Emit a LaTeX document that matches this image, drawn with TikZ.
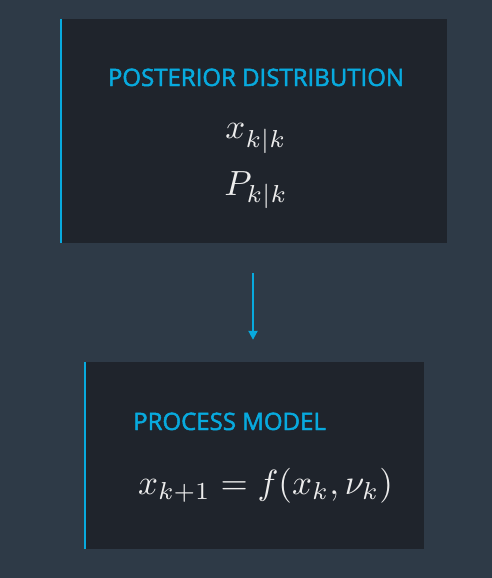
\documentclass[tikz,border=0pt]{standalone}
\usepackage{fontspec}
\usepackage{graphicx}
\usetikzlibrary{arrows.meta}
\newfontfamily\titlefont{Open Sans}[FakeBold=2]
\definecolor{bg}{RGB}{46,58,71}
\definecolor{boxc}{RGB}{31,36,44}
\definecolor{ublue}{RGB}{8,170,222}
\definecolor{txt}{RGB}{236,236,236}
\newcommand{\bigmath}[1]{\scalebox{3.5}{\fontsize{10}{12}\selectfont$#1$}}
\newcommand{\lowsub}[2]{_{\lower#1pt\hbox{$\scriptstyle #2$}}}
\tikzset{
  panel/.style={fill=boxc, draw=none, inner sep=0pt},
  bluebar/.style={ublue, line width=2.6pt},
  ttl/.style={text=ublue, inner sep=0pt, anchor=base, font=\titlefont\fontsize{24}{28}\selectfont},
  mth/.style={text=txt, inner sep=0pt, anchor=base},
  flow/.style={ublue, line width=2pt, -{Triangle[length=9pt,width=9pt]}}
}
\begin{document}
\begin{tikzpicture}[x=1pt,y=-1pt]
\fill[bg] (0,0) rectangle (492,578);
\useasboundingbox (0,0) rectangle (492,578);
\node[panel, minimum width=387pt, minimum height=224pt] (b1) at (253.5,131) {};
\node[panel, minimum width=340pt, minimum height=187pt] (b2) at (254,455.5) {};
\draw[bluebar] ([xshift=1.3pt]b1.north west) -- ([xshift=1.3pt]b1.south west);
\draw[bluebar] ([xshift=1.3pt]b2.north west) -- ([xshift=1.3pt]b2.south west);
\node[ttl] (t1) at (256,86) {POSTERIOR DISTRIBUTION};
\node[mth] (m1) at (256,138) {\bigmath{x\lowsub{1.2}{k|k}}};
\node[mth] (m2) at (256,195) {\bigmath{P\lowsub{0.5}{k|k}}};
\node[ttl, anchor=base west] (t2) at (133,430) {PROCESS MODEL};
\node[mth, anchor=base west] (m3) at (138,494) {\bigmath{x_{k+1} = f(x_k, \nu_k)}};
\coordinate (a1) at ([yshift=-30pt]b1.south -| 253,0);
\coordinate (a2) at ([yshift=22pt]b2.north -| 253,0);
\draw[flow] (a1) -- (a2);
\end{tikzpicture}
\end{document}
